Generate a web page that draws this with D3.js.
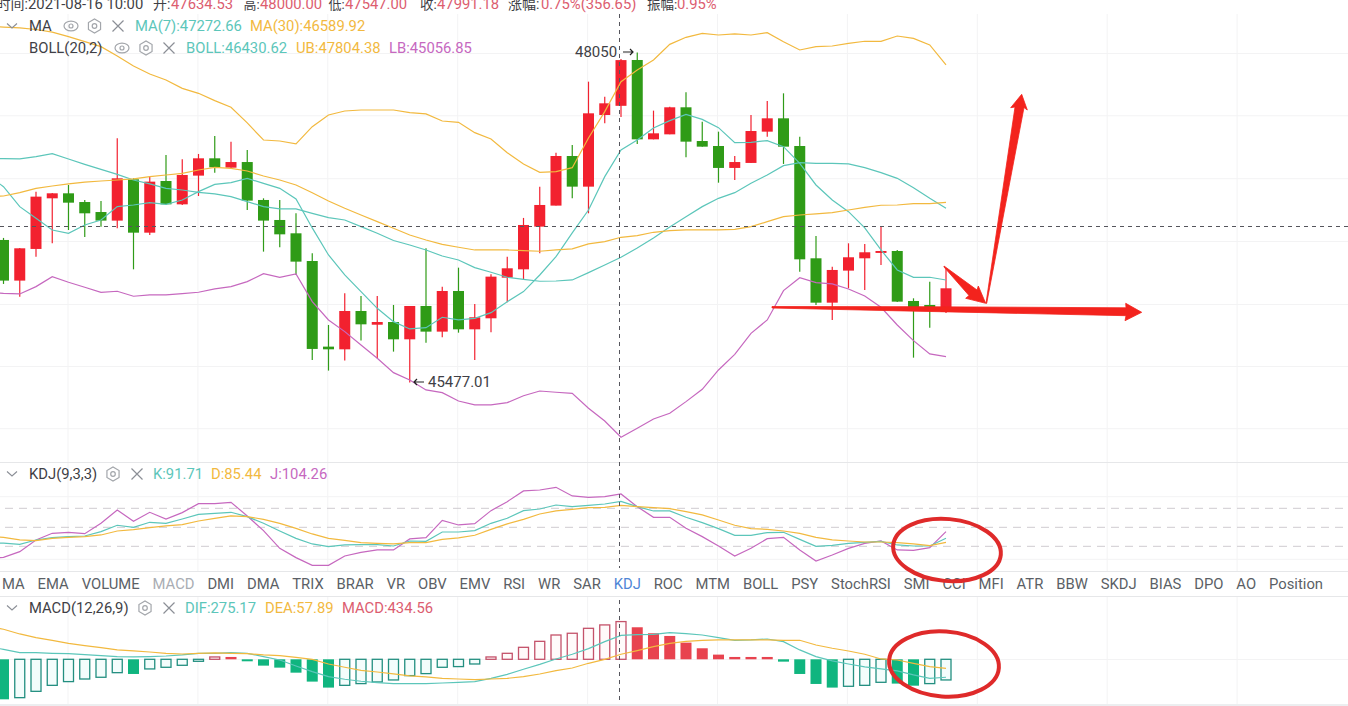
<!DOCTYPE html>
<html>
<head>
<meta charset="utf-8">
<title>K-line chart</title>
<script src="https://cdn.jsdelivr.net/npm/d3@7"></script>
<style>
  html, body { margin: 0; padding: 0; background: #fff; overflow: hidden; }
  svg { display: block; font-family: Roboto, "Noto Sans CJK SC", sans-serif; }
</style>
</head>
<body>
<svg id="chart" width="1348" height="706"></svg>
<script>
// ----------------------------------------------------------------
// 1. DATA
// ----------------------------------------------------------------
const opens = [46588,46271,46518,46913,46952,46884,46806,46739,47061,46645,47048,46866,47090,47225,47152,47196,46900,46744,46640,46424,45756,45735,46034,45927,45948,45813,46073,45873,46190,45891,45977,46294,46359,46692,46856,47243,47004,47563,47634.53,47992,47373,47412,47623,47360,47321,47150,47189,47433,47537,47321,46445,46099,46349,46445,46487,46502,46112,46081,46026];
const highs = [46604,46526,46965,46955,47017,46900,46892,47381,47069,47082,47251,47217,47259,47399,47355,47290,46913,46900,46796,46484,45925,46172,46151,46151,46081,46073,46523,46224,46372,46089,46320,46458,46760,47004,47269,47329,47823,47706,48000,48050,47597,47628,47740,47511,47433,47243,47563,47672,47732,47394,46619,46380,46562,46557,46697,46510,46133,46263,46370];
const lows = [46245,46146,46458,46562,46666,46611,46692,46679,46359,46627,46861,46861,46931,47113,47150,46822,46497,46531,46315,45652,45569,45647,45803,45665,45717,45477.01,45787,45829,45865,45652,45868,46102,46281,46484,46856,46913,46796,47498,47547,47337,47373,47412,47233,47316,47035,47056,47189,47394,47181,46341,46081,45964,46211,46198,46393,46104,45670,45904,46019];
const closes = [46271,46523,46926,46952,46879,46796,46739,47069,46645,47043,46866,47095,47225,47155,47196,46895,46739,46632,46419,45738,45735,46034,45930,45948,45813,46073,45873,46190,45891,45985,46302,46367,46705,46861,47243,47004,47576,47654,47991.18,47373,47420,47623,47355,47316,47150,47196,47438,47537,47316,46437,46099,46354,46453,46492,46502,46107,46058,46058,46211];

// line arrays start one candle before the first bar, that point sits left of the window
const bollUpper = [48253,48249,48242,48230,48210,48174,48135,48096,48023,47945,47883,47836,47771,47732,47675,47623,47501,47368,47360,47337,47472,47563,47594,47602,47602,47602,47581,47571,47516,47506,47425,47376,47269,47181,47116,47121,47152,47384,47589,47823,47914,47992,48114,48169,48200,48187,48195,48187,48205,48135,48070,48096,48101,48122,48138,48138,48179,48161,48109,47953];
const bollMid = [47222,47222,47220,47238,47261,47220,47178,47139,47100,47056,47025,46991,46978,46960,46947,46926,46887,46848,46830,46830,46796,46762,46744,46692,46640,46584,46549,46510,46463,46432,46372,46336,46297,46281,46266,46268,46276,46333,46393,46453,46526,46604,46689,46770,46848,46913,46957,47030,47095,47168,47191,47186,47186,47181,47152,47113,47069,46996,46913,46835];
const bollLower = [46182,46172,46167,46224,46302,46258,46219,46180,46188,46149,46159,46159,46169,46180,46206,46224,46263,46325,46297,46323,46107,45964,45873,45769,45665,45553,45496,45418,45397,45332,45301,45301,45319,45373,45410,45400,45392,45275,45176,45049,45119,45192,45236,45327,45423,45574,45696,45860,45964,46193,46294,46255,46245,46206,46151,46063,45925,45803,45699,45678];
const ma7 = [47095,47004,46848,46757,46666,46640,46705,46744,46848,46861,46879,46866,46900,46965,47022,47035,47069,47030,46991,46908,46682,46471,46315,46185,46055,45951,45894,45904,45985,45964,45977,46021,46107,46185,46315,46458,46643,46822,47082,47290,47368,47462,47519,47568,47529,47464,47347,47350,47363,47316,47186,47017,46900,46809,46682,46510,46354,46297,46297,46276];
const ma30 = [46923,46931,46957,46991,47009,47025,47040,47048,47056,47064,47082,47095,47108,47134,47155,47147,47126,47087,47056,47017,46957,46892,46835,46783,46731,46679,46627,46588,46554,46531,46510,46510,46510,46505,46500,46510,46518,46557,46575,46609,46622,46648,46661,46666,46666,46666,46671,46692,46731,46770,46783,46791,46801,46822,46843,46859,46861,46871,46871,46882];

const kdjK = [25.5,25,23.2,30,33.7,35.3,36.3,43.2,53.2,50,57.9,56.3,63.1,70.5,72.1,73.7,66.8,56.3,44.2,32.6,23.7,19.5,22.1,22.6,22.6,20.5,28.4,27.9,42.6,42.6,44.7,56.3,64.2,76.3,78.9,85.2,82.6,84.7,86.8,91,82.6,75.8,75.8,65.8,57.4,47.9,37.4,37.4,41.6,42.1,31,20,21.6,24.7,26.3,27.9,22.1,20.5,20.5,32.6];
const kdjD = [35.3,34.2,30,28.9,32.6,34.2,35.3,37.9,44.2,46.3,49.5,52.1,54.2,60,64.2,67.9,66.8,62.6,56.3,48.4,39.5,32.6,29.5,25.8,24.7,23.7,25.8,25.8,31,33.2,37.4,46.8,55.3,62.6,71,75.8,78.4,81,81.6,84.7,82.6,81,79.5,74.7,69.5,61.6,53.2,47.9,46.8,44.2,40.5,34.2,30,28.4,26.8,26.8,25.8,23.7,21,26.3];
const kdjJ = [1,2.6,11.6,30,40.5,42.1,40,56.3,77.4,59.5,73.7,63.1,73.2,87.4,87.4,89.5,67.9,44.7,16.8,2.1,-10,-10,4.7,10.5,14.2,14.2,31.6,33.7,61,53.7,55.8,76.3,90.5,107.4,108.9,113.1,99.5,97.4,98.4,102.6,82.6,65.8,65.8,48.4,35.3,20.5,4.7,16.8,32.1,34.2,14.2,-3.2,6.3,16.8,24.7,28.4,14.2,13.7,17.9,43.2];
const kdjLevels = [80, 50, 20];

const macdHist = [-461,-442,-369,-300,-257,-227,-207,-154,-169,-111,-92,-69,-23,27,27,-23,-73,-96,-154,-257,-326,-300,-280,-261,-238,-188,-165,-92,-84,-54,27,69,138,207,280,300,357,396,434.56,369,300,269,192,127,54,27,27,27,-27,-169,-284,-326,-311,-300,-265,-280,-304,-280,-238];
const macdDif = [146,115,77,77,69,65,54,42,31,27,31,38,50,69,69,77,69,31,-8,-77,-142,-200,-230,-253,-269,-280,-280,-280,-273,-265,-257,-219,-173,-115,-58,4,58,123,204,275.17,284,288,307,296,280,250,219,223,234,204,108,31,-19,-54,-88,-111,-134,-180,-219,-207];
const macdDea = [384,346,292,250,219,184,157,134,108,96,84,69,61,69,73,69,65,50,42,23,0,-54,-92,-127,-146,-169,-192,-203,-219,-227,-234,-227,-219,-200,-169,-131,-100,-46,0,57.89,100,146,184,207,219,223,223,223,223,219,219,165,127,96,58,4,-8,-46,-84,-104];

const tabs = ["MA","EMA","VOLUME","MACD","DMI","DMA","TRIX","BRAR","VR","OBV","EMV","RSI","WR","SAR","KDJ","ROC","MTM","BOLL","PSY","StochRSI","SMI","CCI","MFI","ATR","BBW","SKDJ","BIAS","DPO","AO","Position"];

// ----------------------------------------------------------------
// 2. SCALES + COLOURS
// ----------------------------------------------------------------
const svg = d3.select("#chart");
const width = 1348;

const x = d3.scaleLinear().domain([0, 58]).range([3.5, 946]);
const y = d3.scaleLinear().domain([48460, 44856]).range([0, 462]);
const yKdj = d3.scaleLinear().domain([80, 20]).range([508.3, 546.3]);
const yMacd = d3.scaleLinear().domain([500, -500]).range([615.9, 702.7]);

const RED = "#f2212f", GREEN = "#2f9b17";
const TEAL = "#5cc6ba", ORANGE = "#f2b93f", PINK = "#c668bf";
const DARK = "#3f3f46", VALUE_RED = "#dc5d70";
const barWidth = 11;

// ----------------------------------------------------------------
// 3. GRID + PANEL LINES
// ----------------------------------------------------------------
const grid = svg.append("g").attr("stroke", "#f3f3f4").attr("stroke-width", 1);
d3.range(68, width, 129.9).forEach(gx => {
  grid.append("line").attr("x1", gx).attr("x2", gx).attr("y1", 14).attr("y2", 462);
  grid.append("line").attr("x1", gx).attr("x2", gx).attr("y1", 463).attr("y2", 571);
  grid.append("line").attr("x1", gx).attr("x2", gx).attr("y1", 597).attr("y2", 704);
});
[53.5, 115.8, 178.7, 241.5, 304.5, 366.5, 428.7, 496.7, 559.3, 659.5].forEach(gy => {
  grid.append("line").attr("x1", 0).attr("x2", width).attr("y1", gy).attr("y2", gy);
});
[462.5, 571.5, 596.5].forEach(gy => {
  svg.append("line").attr("x1", 0).attr("x2", width).attr("y1", gy).attr("y2", gy)
    .attr("stroke", "#e6e7e9");
});
svg.append("rect").attr("x", 0).attr("y", 704).attr("width", width).attr("height", 2).attr("fill", "#eceef0");

// KDJ guide levels
svg.append("g").selectAll("line").data(kdjLevels).join("line")
  .attr("x1", 5).attr("x2", width)
  .attr("y1", d => yKdj(d)).attr("y2", d => yKdj(d))
  .attr("stroke", "#cfcbd0").attr("stroke-width", 1).attr("stroke-dasharray", "8,6");

// ----------------------------------------------------------------
// 4. CANDLES
// ----------------------------------------------------------------
const candleData = opens.map((o, i) => ({ i, o, h: highs[i], l: lows[i], c: closes[i] }));
const candles = svg.append("g").selectAll("g").data(candleData).join("g")
  .attr("fill", d => d.c >= d.o ? RED : GREEN)
  .attr("stroke", d => d.c >= d.o ? RED : GREEN);

candles.append("line")
  .attr("x1", d => x(d.i)).attr("x2", d => x(d.i))
  .attr("y1", d => y(d.h)).attr("y2", d => y(d.l))
  .attr("stroke-width", 1.2);

candles.append("rect")
  .attr("x", d => x(d.i) - barWidth / 2)
  .attr("width", barWidth)
  .attr("y", d => y(Math.max(d.o, d.c)))
  .attr("height", d => Math.max(1.5, Math.abs(y(d.o) - y(d.c))))
  .attr("stroke", "none");

// ----------------------------------------------------------------
// 5. INDICATOR LINES
// ----------------------------------------------------------------
// i - 1 because every line array starts one candle early
function drawLine(values, scale, color) {
  const line = d3.line().x((d, i) => x(i - 1)).y(d => scale(d));
  svg.append("path").datum(values)
    .attr("d", line).attr("fill", "none")
    .attr("stroke", color).attr("stroke-width", 1.2);
}

drawLine(bollUpper, y, ORANGE);
drawLine(bollMid, y, TEAL);
drawLine(bollLower, y, PINK);
drawLine(ma7, y, TEAL);
drawLine(ma30, y, ORANGE);

drawLine(kdjJ, yKdj, PINK);
drawLine(kdjK, yKdj, TEAL);
drawLine(kdjD, yKdj, ORANGE);

// ----------------------------------------------------------------
// 6. MACD BARS
// ----------------------------------------------------------------
// hollow when the bar went up from the one before it
const histData = macdHist.map((v, i) => ({ i, v, hollow: i > 0 && v > macdHist[i - 1] }));
svg.append("g").selectAll("rect").data(histData).join("rect")
  .attr("x", d => x(d.i) - barWidth / 2 + (d.hollow ? 0.5 : 0))
  .attr("width", d => barWidth - (d.hollow ? 1 : 0))
  .attr("y", d => yMacd(Math.max(d.v, 0)))
  .attr("height", d => Math.abs(yMacd(d.v) - yMacd(0)))
  .attr("fill", d => d.hollow ? (d.v > 0 ? "#fffafa" : "#f4fdfc") : (d.v > 0 ? "#e8434f" : "#10b57f"))
  .attr("stroke", d => d.hollow ? (d.v > 0 ? "#c4526a" : "#238f80") : "none")
  .attr("stroke-width", 1.3);

drawLine(macdDif, yMacd, TEAL);
drawLine(macdDea, yMacd, ORANGE);

// ----------------------------------------------------------------
// 7. CROSSHAIR
// ----------------------------------------------------------------
const crossX = x(38) - 1.5;
svg.append("g").attr("stroke", "#55555c").attr("stroke-dasharray", "4,4").attr("stroke-width", 1)
  .selectAll("line").data([[14, 568], [600, 702]]).join("line")
  .attr("x1", crossX).attr("x2", crossX)
  .attr("y1", d => d[0]).attr("y2", d => d[1]);
svg.append("line")
  .attr("x1", 0).attr("x2", width).attr("y1", 226.5).attr("y2", 226.5)
  .attr("stroke", "#55555c").attr("stroke-dasharray", "4,4");

// ----------------------------------------------------------------
// 8. TEXT: HEADER, LEGENDS, TABS
// ----------------------------------------------------------------
const FONT = 14.8;
function label(str, tx, ty, color, size) {
  return svg.append("text").attr("x", tx).attr("y", ty)
    .attr("fill", color || DARK).attr("font-size", size || FONT).text(str);
}

// header row is cut off by the top of the window, the CJK labels run a bit smaller
[["时间:", -3.4, DARK, 14], ["2021-08-16 10:00", 28, DARK], ["开:", 153, DARK, 14], ["47634.53", 171, VALUE_RED],
 ["高:", 243.5, DARK, 13], ["48000.00", 260, VALUE_RED], ["低:", 328.5, DARK, 13], ["47547.00", 345, VALUE_RED],
 ["收:", 420, DARK, 13.5], ["47991.18", 437, VALUE_RED], ["涨幅:", 508, DARK, 14], ["0.75%(356.65)", 541, VALUE_RED],
 ["振幅:", 647, DARK, 13.5], ["0.95%", 677, VALUE_RED]]
  .forEach(d => label(d[0], d[1], 9, d[2], d[3]));

function chevron(cy) {
  svg.append("path").attr("d", `M7,${cy - 2.5} L12,${cy + 2} L17,${cy - 2.5}`)
    .attr("fill", "none").attr("stroke", "#8b8f96").attr("stroke-width", 1.1);
}
function eye(cx, cy) {
  svg.append("ellipse").attr("cx", cx).attr("cy", cy).attr("rx", 7).attr("ry", 4.8)
    .attr("fill", "none").attr("stroke", "#a3a6ab").attr("stroke-width", 1.2);
  svg.append("circle").attr("cx", cx).attr("cy", cy).attr("r", 2)
    .attr("fill", "none").attr("stroke", "#a3a6ab").attr("stroke-width", 1.2);
}
function hex(cx, cy) {
  const pts = d3.range(6).map(k => {
    const a = Math.PI / 6 + k * Math.PI / 3;
    return [cx + 7 * Math.cos(a), cy + 7 * Math.sin(a)];
  });
  svg.append("path").attr("d", d3.line()(pts) + "Z")
    .attr("fill", "none").attr("stroke", "#a3a6ab").attr("stroke-width", 1.2);
  svg.append("circle").attr("cx", cx).attr("cy", cy).attr("r", 2.3)
    .attr("fill", "none").attr("stroke", "#a3a6ab").attr("stroke-width", 1.2);
}
function cross(cx, cy) {
  svg.append("path").attr("d", `M${cx - 5.5},${cy - 5.5} L${cx + 5.5},${cy + 5.5} M${cx + 5.5},${cy - 5.5} L${cx - 5.5},${cy + 5.5}`)
    .attr("stroke", "#8b8f96").attr("stroke-width", 1.2);
}

chevron(26);
label("MA", 29, 31);
eye(71, 26); hex(94.5, 26); cross(118, 26);
label("MA(7):47272.66", 135, 31, TEAL);
label("MA(30):46589.92", 250, 31, ORANGE);

label("BOLL(20,2)", 29, 53);
eye(122, 48); hex(146, 48); cross(169, 48);
label("BOLL:46430.62", 186, 53, TEAL);
label("UB:47804.38", 296, 53, ORANGE);
label("LB:45056.85", 389, 53, PINK);

chevron(474);
label("KDJ(9,3,3)", 29, 479);
hex(113, 474); cross(137, 474);
label("K:91.71", 153, 479, TEAL);
label("D:85.44", 211, 479, ORANGE);
label("J:104.26", 270, 479, PINK);

chevron(608);
label("MACD(12,26,9)", 29, 613);
hex(145, 608); cross(169, 608);
label("DIF:275.17", 185, 613, TEAL);
label("DEA:57.89", 265, 613, ORANGE);
label("MACD:434.56", 342, 613, VALUE_RED);

// tabs flow one after the other, about 13px between them
let tabX = 2;
tabs.forEach(name => {
  const color = name === "KDJ" ? "#4f86d6" : name === "MACD" ? "#a9adb3" : "#5b5f66";
  const t = label(name, tabX, 589, color, 14.8);
  tabX += t.node().getComputedTextLength() + 12.9;
});

// high / low labels
label("48050", 575, 57, DARK, 15);
label("45477.01", 428, 387, DARK, 15);
const arrowMark = (x1, x2, ay, dir) => {
  svg.append("path")
    .attr("d", `M${x1},${ay} L${x2},${ay} M${x2 - dir * 3},${ay - 3} L${x2},${ay} L${x2 - dir * 3},${ay + 3}`)
    .attr("fill", "none").attr("stroke", "#222").attr("stroke-width", 1.2);
};
arrowMark(623, 633, 52, 1);
arrowMark(424, 414, 382, -1);

// ----------------------------------------------------------------
// 9. HAND DRAWN RED MARKS
// ----------------------------------------------------------------
const shapes = [
  [[772,306.5],[920,306.7],[1126,307.8],[1125.7,303.3],[1141.7,312.3],[1125,320.7],[1126,315.7],[893,310.7],[772,308]],
  [[986,303.3],[1015,107],[1010.7,107.7],[1021.7,94.3],[1027.3,110],[1024,107.5],[986.7,303.3]],
  [[944,266],[977,290],[978.3,286],[985.7,303.3],[965.7,298.3],[969,295.5],[944,267]]
];
svg.append("g").selectAll("path").data(shapes).join("path")
  .attr("d", d => d3.line()(d) + "Z").attr("fill", "#f3231d")
  .attr("stroke", "#f3231d").attr("stroke-width", 0.8);

[[947, 550, 54, 31, 5], [944, 664, 55, 32.5, 4]].forEach(e => {
  svg.append("ellipse")
    .attr("cx", e[0]).attr("cy", e[1]).attr("rx", e[2]).attr("ry", e[3])
    .attr("transform", `rotate(${e[4]},${e[0]},${e[1]})`)
    .attr("fill", "none").attr("stroke", "#df2a2a").attr("stroke-width", 4);
});
</script>
</body>
</html>
